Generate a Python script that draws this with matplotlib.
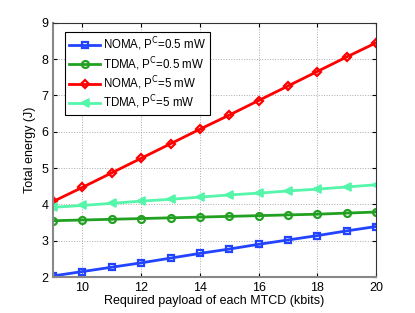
import matplotlib
matplotlib.use('Agg')
import matplotlib.pyplot as plt

plt.rcParams['font.family'] = ['Liberation Sans', 'DejaVu Sans']

payload = [9, 10, 11, 12, 13, 14, 15, 16, 17, 18, 19, 20]
noma_05 = [2.03, 2.15, 2.27, 2.39, 2.52, 2.65, 2.77, 2.90, 3.02, 3.14, 3.27, 3.39]
tdma_05 = [3.55, 3.57, 3.59, 3.61, 3.63, 3.65, 3.67, 3.69, 3.71, 3.73, 3.76, 3.79]
noma_5 = [4.08, 4.47, 4.87, 5.27, 5.67, 6.07, 6.46, 6.86, 7.26, 7.66, 8.06, 8.45]
tdma_5 = [3.92, 3.97, 4.03, 4.09, 4.14, 4.20, 4.26, 4.31, 4.37, 4.42, 4.48, 4.54]
xticks = [10, 12, 14, 16, 18, 20]
yticks = [2, 3, 4, 5, 6, 7, 8, 9]

fig = plt.figure(figsize=(4.15, 3.13), dpi=100)
ax = fig.add_axes([0.128, 0.115, 0.778, 0.812])

ax.plot(payload, noma_05, '-s', color='#2244ff', lw=2, ms=4.5, mfc='none', mew=1.6,
        label=r'NOMA, P$^\mathrm{C}$=0.5 mW')
ax.plot(payload, tdma_05, '-o', color='#22a022', lw=2, ms=5, mfc='none', mew=1.6,
        label=r'TDMA, P$^\mathrm{C}$=0.5 mW')
ax.plot(payload, noma_5, '-D', color='#ff0000', lw=2, ms=4.5, mfc='none', mew=1.6,
        label=r'NOMA, P$^\mathrm{C}$=5 mW')
ax.plot(payload, tdma_5, '-<', color='#55f5aa', lw=2, ms=6, mfc='#55f5aa', mew=1.2,
        label=r'TDMA, P$^\mathrm{C}$=5 mW')

ax.set_xlim(9, 20)
ax.set_ylim(2, 9)
ax.set_xticks(xticks)
ax.set_yticks(yticks)
ax.tick_params(direction='in', labelsize=9, length=3, top=True, right=True)
ax.grid(True, linestyle=':', color='#aaaaaa', lw=0.7)
for s in ax.spines.values():
    s.set_color('#333333')
    s.set_linewidth(0.8)
ax.spines['left'].set_color('#888888')
ax.spines['left'].set_linewidth(1.5)
ax.spines['bottom'].set_color('#888888')
ax.spines['bottom'].set_linewidth(1.5)

ax.set_xlabel('Required payload of each MTCD (kbits)', fontsize=9, labelpad=1)
ax.set_ylabel('Total energy (J)', fontsize=9, labelpad=4)

leg = ax.legend(loc='upper left', fontsize=8.3, fancybox=False, framealpha=1,
                edgecolor='black', handlelength=2.7, borderpad=0.35,
                labelspacing=0.15, handletextpad=0.25, borderaxespad=0,
                bbox_to_anchor=(0.037, 0.965))
leg.get_frame().set_linewidth(0.8)

fig.savefig('out.png', dpi=100)
